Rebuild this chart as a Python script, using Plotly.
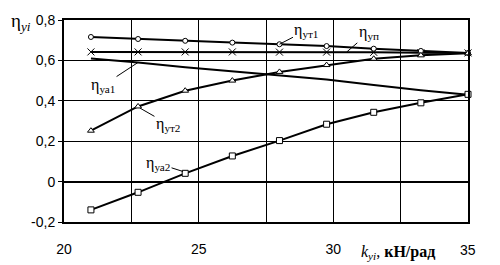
import plotly.graph_objects as go

k_vals = [21, 22.75, 24.5, 26.25, 28, 29.75, 31.5, 33.25, 35]
eta_ut1 = [0.716, 0.706, 0.697, 0.688, 0.68, 0.671, 0.658, 0.647, 0.637]
eta_up = [0.642, 0.642, 0.642, 0.642, 0.641, 0.641, 0.640, 0.638, 0.637]
eta_ua1 = [0.61, 0.59, 0.566, 0.545, 0.524, 0.505, 0.478, 0.452, 0.43]
eta_ut2 = [0.252, 0.372, 0.45, 0.50, 0.543, 0.577, 0.608, 0.625, 0.635]
eta_ua2 = [-0.14, -0.053, 0.041, 0.127, 0.203, 0.284, 0.343, 0.39, 0.432]

y_ticks = [-0.2, 0, 0.2, 0.4, 0.6, 0.8]
y_labels = ["-0,2", "0", "0,2", "0,4", "0,6", "0,8"]
x_ticks = [20, 25, 30, 35]
x_labels = ["20", "25", "30", ""]

serif = "Liberation Serif"
sans = "Liberation Sans"

fig = go.Figure()

def add_series(y, symbol, size=6):
    if symbol is None:
        marker = dict(size=1, opacity=0)
        mode = "lines"
    elif symbol == "x-thin-open":
        marker = dict(symbol=symbol, size=7, color="black", line=dict(color="black", width=1))
        mode = "lines+markers"
    else:
        marker = dict(symbol=symbol, size=size, color="white", line=dict(color="black", width=1))
        mode = "lines+markers"
    fig.add_trace(go.Scatter(x=k_vals, y=y, mode=mode, line=dict(color="black", width=2),
                             marker=marker, showlegend=False, cliponaxis=False))

add_series(eta_ua1, None)
add_series(eta_up, "x-thin-open")
add_series(eta_ut1, "circle", 5)
add_series(eta_ut2, "triangle-up", 6)
add_series(eta_ua2, "square", 6)

labels = [
    ("η<sub>ут1</sub>", 28, 0.68, 27, -14),
    ("η<sub>уп</sub>", 30.5, 0.642, 22, -19),
    ("η<sub>уа1</sub>", 22.75, 0.59, -35, 23),
    ("η<sub>ут2</sub>", 22.82, 0.364, 28, 16),
    ("η<sub>уа2</sub>", 24.42, 0.05, -25, -8),
]
for txt, x, y, ax, ay in labels:
    fig.add_annotation(x=x, y=y, ax=ax, ay=ay, text=txt, showarrow=True,
                       arrowhead=0, arrowwidth=1, arrowcolor="black",
                       font=dict(family=serif, size=16, color="black"))

fig.add_annotation(xref="paper", yref="paper", x=-0.135, y=0.99, xanchor="left", yanchor="middle",
                   text="η<sub><i>yi</i></sub>", showarrow=False,
                   font=dict(family=serif, size=19, color="black"))
fig.add_annotation(xref="paper", yref="paper", x=0.827, y=-0.15, xanchor="center", yanchor="middle",
                   text="<i>k</i><sub><i>yi</i></sub>, <b>кН/рад</b>", showarrow=False,
                   font=dict(family=serif, size=16, color="black"))
fig.add_annotation(xref="x", yref="paper", x=35, y=-0.19, text="35", showarrow=False,
                   font=dict(family=sans, size=14, color="black"))

fig.update_xaxes(range=[20, 35], tickvals=x_ticks, ticktext=x_labels, automargin=False,
                 showgrid=True, gridcolor="black", gridwidth=1,
                 minor=dict(dtick=2.5, tick0=20, showgrid=True, gridcolor="black", gridwidth=1),
                 showline=True, linecolor="black", linewidth=2, mirror=True,
                 ticks="", ticklabelstandoff=13, zeroline=False,
                 tickfont=dict(family=sans, size=14, color="black"))
fig.update_yaxes(range=[-0.2, 0.8], tickvals=y_ticks, ticktext=y_labels, automargin=False,
                 showgrid=True, gridcolor="black", gridwidth=1,
                 zeroline=True, zerolinecolor="black", zerolinewidth=2,
                 showline=True, linecolor="black", linewidth=2, mirror=True,
                 ticks="outside", ticklen=4, tickcolor="black",
                 tickfont=dict(family=sans, size=14, color="black"))

# page body has an 8px margin, so shift the plot area back by that much
fig.update_layout(width=500, height=265, margin=dict(l=56, r=40, t=12, b=51),
                  plot_bgcolor="white", paper_bgcolor="white")

fig.write_html("out.html")
